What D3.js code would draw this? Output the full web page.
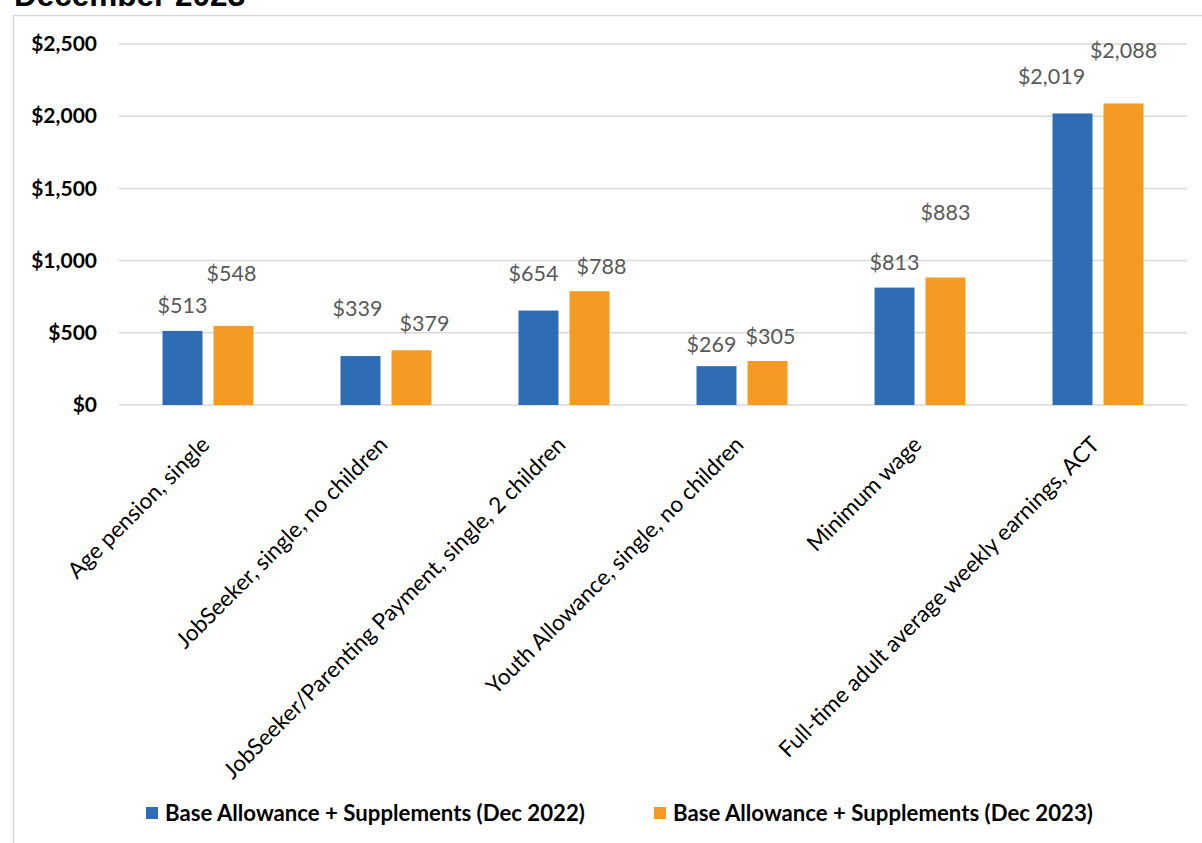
<!DOCTYPE html>
<html>
<head>
<meta charset="utf-8">
<script src="https://cdn.jsdelivr.net/npm/d3@7/dist/d3.min.js"></script>
<style>
  html, body { margin: 0; padding: 0; background: #fff; }
  svg { display: block; }
</style>
</head>
<body>
<svg id="chart" width="1202" height="843"></svg>
<script>
// ---- data ----
const categories = [
  "Age pension, single",
  "JobSeeker, single, no children",
  "JobSeeker/Parenting Payment, single, 2 children",
  "Youth Allowance, single, no children",
  "Minimum wage",
  "Full-time adult average weekly earnings, ACT"
];
const seriesNames = [
  "Base Allowance + Supplements (Dec 2022)",
  "Base Allowance + Supplements (Dec 2023)"
];
const values2022 = [513, 339, 654, 269, 813, 2019];
const values2023 = [548, 379, 788, 305, 883, 2088];
const yTicks = [0, 500, 1000, 1500, 2000, 2500];
const titleText = "December 2023";

// ---- layout / style ----
const colors = ["#2E6DB4", "#F59A23"];
const gridColor = "#D9D9D9";
const plot = { left: 119, right: 1187, top: 44, bottom: 405 };
// hand-placed value labels: [dx, dy] from the top-centre of each bar
const labelShift = [
  [[0, -26], [-3, -48], [-5, -37], [-5, -22], [0, -25], [-21, -37]],
  [[-2, -53], [13, -27], [12, -25], [3, -25], [0, -65], [0, -53]]
];

const svg = d3.select("#chart");
const fmt = d3.format("$,");

// chart frame
svg.append("path")
  .attr("d", "M13.5,843 V15.5 H1210")
  .attr("fill", "none")
  .attr("stroke", gridColor)
  .attr("stroke-width", 1.5);

// title (second line of a wrapped heading, clipped at the top edge)
svg.append("text")
  .attr("x", 14)
  .attr("y", 6)
  .attr("font-family", "Liberation Sans, Arial, sans-serif")
  .attr("font-weight", "bold")
  .attr("font-size", 31.5)
  .attr("fill", "#000")
  .text(titleText);

// scales
const y = d3.scaleLinear().domain([0, 2500]).range([plot.bottom, plot.top]);
const x0 = d3.scaleBand().domain(categories).range([plot.left, plot.right]).padding(0);
const x1 = d3.scaleBand().domain([0, 1]).range([0, x0.bandwidth()])
  .paddingInner(0.216).paddingOuter(0.853);

// gridlines
svg.append("g")
  .selectAll("line")
  .data(yTicks)
  .join("line")
  .attr("x1", plot.left).attr("x2", plot.right)
  .attr("y1", d => y(d)).attr("y2", d => y(d))
  .attr("stroke", gridColor)
  .attr("stroke-width", 1.5);

// y axis labels
const yAxis = svg.append("g")
  .attr("transform", `translate(${plot.left - 22},0)`)
  .call(d3.axisLeft(y).tickValues(yTicks).tickFormat(fmt).tickSize(0).tickPadding(0));
yAxis.select(".domain").remove();
yAxis.selectAll("text")
  .attr("font-family", "Lato, sans-serif")
  .attr("font-weight", "bold")
  .attr("font-size", 21)
  .attr("fill", "#000");

// bars
const series = [values2022, values2023];
const groups = svg.append("g")
  .selectAll("g")
  .data(series)
  .join("g")
  .attr("fill", (d, i) => colors[i]);

groups.each(function (vals, s) {
  d3.select(this).selectAll("rect")
    .data(vals)
    .join("rect")
    .attr("x", (v, i) => x0(categories[i]) + x1(s))
    .attr("width", x1.bandwidth())
    .attr("y", v => y(v))
    .attr("height", v => y(0) - y(v));

  d3.select(this).selectAll("text")
    .data(vals)
    .join("text")
    .attr("x", (v, i) => x0(categories[i]) + x1(s) + x1.bandwidth() / 2 + labelShift[s][i][0])
    .attr("y", (v, i) => y(v) + labelShift[s][i][1])
    .attr("dy", "0.36em")
    .attr("text-anchor", "middle")
    .attr("font-family", "Lato, sans-serif")
    .attr("font-size", 21.5)
    .attr("fill", "#595959")
    .text(v => fmt(v));
});

// category axis with rotated labels
const xAxis = svg.append("g")
  .attr("transform", `translate(0,${plot.bottom})`)
  .call(d3.axisBottom(x0).tickSize(0).tickPadding(0));
xAxis.select(".domain").remove();
xAxis.selectAll(".tick text")
  .attr("font-family", "Lato, sans-serif")
  .attr("font-size", 22.5)
  .attr("fill", "#000")
  .attr("text-anchor", "end")
  .attr("x", 0).attr("y", 0).attr("dy", 0)
  .attr("transform", "translate(3,41) rotate(-45)");

// legend
const legend = svg.append("g")
  .selectAll("g")
  .data(seriesNames)
  .join("g")
  .attr("transform", (d, i) => `translate(${[146, 654][i]},813)`);
legend.append("rect")
  .attr("x", 0).attr("y", -6).attr("width", 12).attr("height", 12)
  .attr("fill", (d, i) => colors[i]);
legend.append("text")
  .attr("x", 19)
  .attr("dy", "0.36em")
  .attr("font-family", "Lato, sans-serif")
  .attr("font-weight", "bold")
  .attr("font-size", 22.2)
  .attr("fill", "#000")
  .text(d => d);
</script>
</body>
</html>
